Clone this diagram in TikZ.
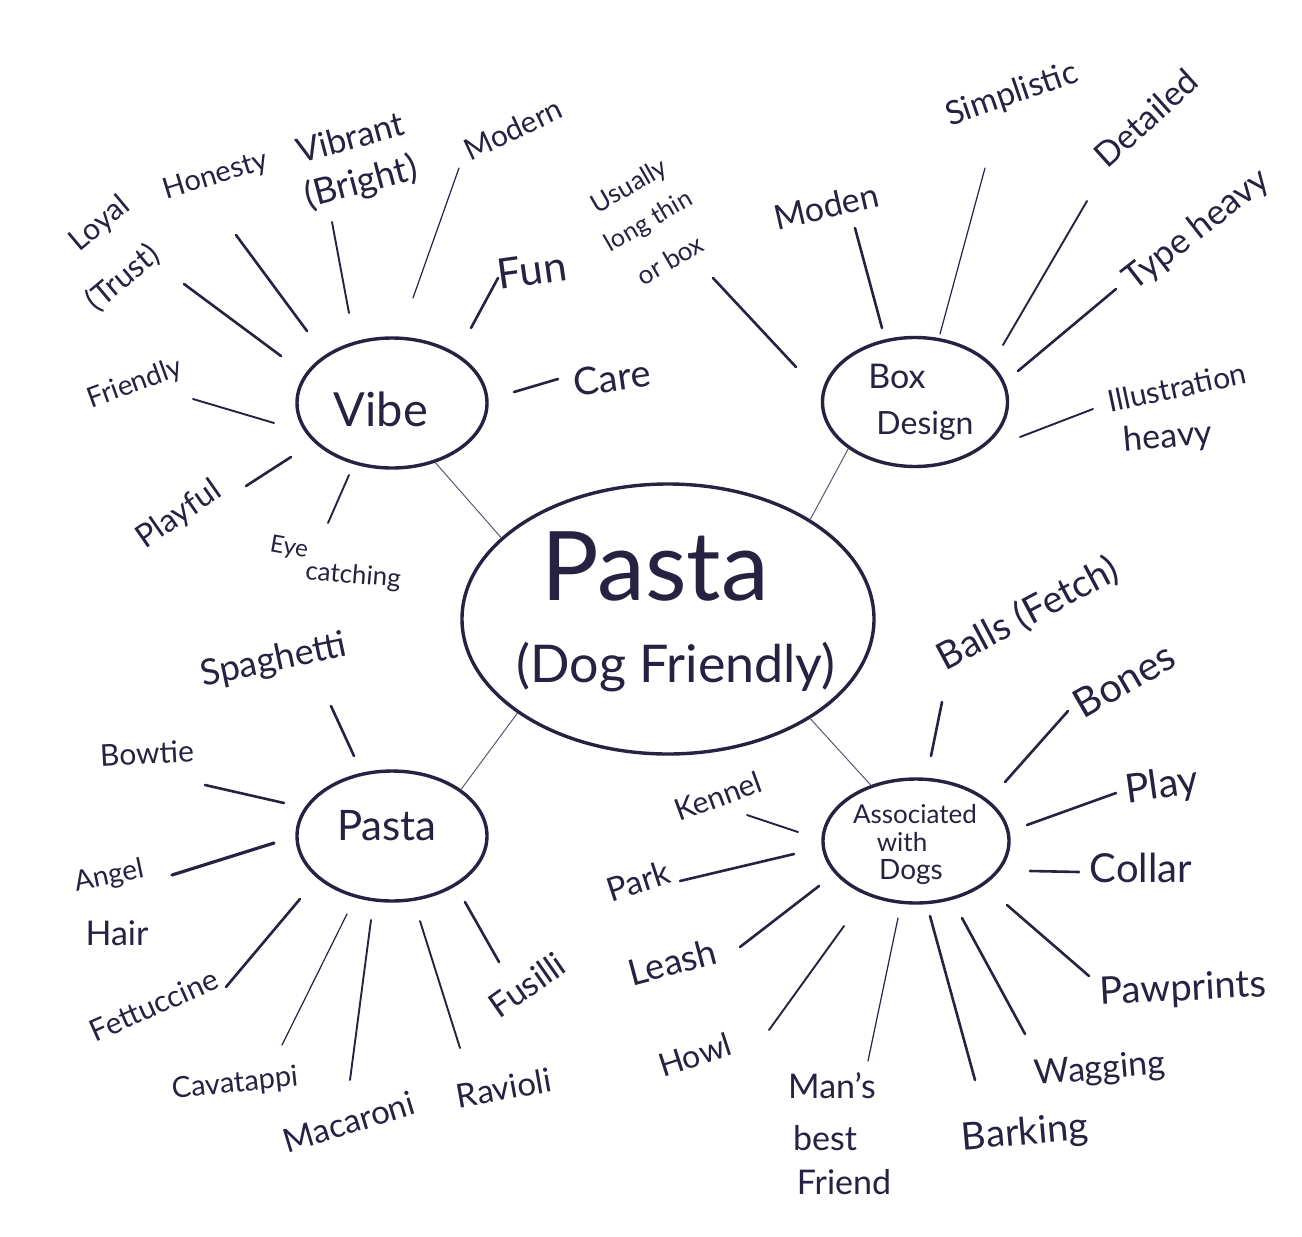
\documentclass[tikz,border=0pt]{standalone}
\usepackage{fontspec}
\setmainfont{Lato}
\usetikzlibrary{shapes.geometric}
\definecolor{ink}{RGB}{38,34,66}
\newcommand\spoke[4][]{\coordinate (#2a) at (#3);\coordinate (#2b) at (#4);\draw[spk,#1] (#2a) -- (#2b);}
\begin{document}
\begin{tikzpicture}[x=1pt,y=-1pt,
  ell/.style={ellipse, draw=ink, line width=3.4pt, inner sep=0pt},
  lab/.style={text=ink, inner sep=0pt, font=\fontsize{#1}{#1}\selectfont},
  spk/.style={draw=ink, line width=2.6pt, line cap=round},
  sp1/.style={line width=1.2pt},
  sp2/.style={line width=1.9pt},
  sp3/.style={line width=3.2pt},
  link/.style={draw=ink!75, line width=1pt}]
\useasboundingbox (0,0) rectangle (1302,1237);
\fill[white] (0,0) rectangle (1302,1237);

% ---------- main ellipses ----------
\node[ell, minimum width=412pt, minimum height=270pt] (center) at (668,619) {};
\node[ell, minimum width=190pt, minimum height=130pt] (vibe) at (392,403) {};
\node[ell, minimum width=185pt, minimum height=129pt] (box) at (915,402) {};
\node[ell, minimum width=190pt, minimum height=130pt] (pasta) at (392,836) {};
\node[ell, minimum width=186pt, minimum height=124pt] (dogs) at (916,841) {};

\node[lab=96] (tPasta) at (655,566) {Pasta};
\node[lab=52] (tDog) at (676,667) {(Dog Friendly)};
\node[lab=47] (tVibe) at (381,409) {Vibe};
\node[lab=34] (tBox) at (897,376) {Box};
\node[lab=32] (tDesign) at (925,426) {Design};
\node[lab=42] (tPastaSub) at (387,826) {Pasta};
\node[lab=26] (tAssoc) at (915,814) {Associated};
\node[lab=26] (tWith) at (902,842) {with};
\node[lab=28] (tDogs) at (911,872) {Dogs};

% ---------- connectors to the centre ----------
\draw[link] (vibe.-54) -- (center.154);
\draw[link] (box.215) -- (center.35.5);
\draw[link] (pasta.34.6) -- (center.212.6);
\draw[link] (dogs.129) -- (center.325);

% ---------- Vibe ----------
\node[lab=30, rotate=40] (lLoyal) at (100,224) {Loyal};
\node[lab=31, rotate=40] (lTrust) at (123,278) {(Trust)};
\node[lab=29, rotate=17] (lHonesty) at (216,176) {Honesty};
\node[lab=34, rotate=15] (lVibrant) at (350,137) {Vibrant};
\node[lab=36, rotate=15] (lBright) at (361,183) {(Bright)};
\node[lab=30, rotate=25] (lModern) at (513,129) {Modern};
\node[lab=42, rotate=8] (lFun) at (532,270) {Fun};
\node[lab=38, rotate=8] (lCare) at (612,378) {Care};
\node[lab=28, rotate=20] (lFriendly) at (135,384) {Friendly};
\node[lab=32, rotate=35] (lPlayful) at (179,515) {Playful};
\node[lab=24, rotate=-10] (lEye) at (289,548) {Eye};
\node[lab=26, rotate=-5] (lCatching) at (353,576) {catching};

\spoke{s1}{184,284}{281,356}
\spoke{s2}{236,235}{307,331}
\spoke[sp2]{s3}{332,222}{349,313}
\spoke[sp1]{s4}{459,168}{413,298}
\spoke{s5}{498,278}{471,328}
\spoke{s6}{514,392}{558,379}
\spoke[sp2]{s7}{193,399}{274,423}
\spoke{s8}{246,486}{291,457}
\spoke[sp2]{s9}{349,475}{328,523}

% ---------- Box Design ----------
\node[lab=26, rotate=30] (lUsually) at (630,187) {Usually};
\node[lab=25, rotate=30] (lLong) at (649,222) {long thin};
\node[lab=26, rotate=30] (lOrBox) at (670,260) {or box};
\node[lab=34, rotate=13] (lModen) at (826,206) {Moden};
\node[lab=33, rotate=19] (lSimplistic) at (1012,95) {Simplistic};
\node[lab=34, rotate=42] (lDetailed) at (1146,118) {Detailed};
\node[lab=35, rotate=38] (lType) at (1197,230) {Type heavy};
\node[lab=30, rotate=12] (lIllus) at (1177,387) {Illustration};
\node[lab=34, rotate=5] (lHeavy) at (1168,438) {heavy};

\spoke{b1}{713,278}{796,367}
\spoke{b2}{855,228}{882,328}
\spoke[sp1]{b3}{985,168}{940,334}
\spoke[sp2]{b4}{1087,201}{1003,345}
\spoke{b5}{1116,289}{1018,371}
\spoke[sp2]{b6}{1093,409}{1020,437}

% ---------- Pasta ----------
\node[lab=36, rotate=12] (lSpaghetti) at (274,661) {Spaghetti};
\node[lab=30, rotate=3] (lBowtie) at (147,753) {Bowtie};
\node[lab=28, rotate=12] (lAngel) at (109,877) {Angel};
\node[lab=34] (lHair) at (117,933) {Hair};
\node[lab=30, rotate=24] (lFettuccine) at (154,1005) {Fettuccine};
\node[lab=29, rotate=6] (lCavatappi) at (235,1084) {Cavatappi};
\node[lab=33, rotate=17] (lMacaroni) at (349,1122) {Macaroni};
\node[lab=33, rotate=10] (lRavioli) at (504,1088) {Ravioli};
\node[lab=34, rotate=35] (lFusilli) at (527,985) {Fusilli};

\spoke{p1}{331,706}{354,756}
\spoke{p2}{205,785}{284,803}
\spoke[sp3]{p3}{172,875}{274,843}
\spoke{p4}{226,987}{300,899}
\spoke[sp1]{p5}{282,1045}{347,914}
\spoke[sp2]{p6}{371,920}{350,1080}
\spoke[sp2]{p7}{420,921}{460,1048}
\spoke{p8}{465,902}{499,962}

% ---------- Associated with Dogs ----------
\node[lab=38, rotate=28] (lBalls) at (1028,614) {Balls (Fetch)};
\node[lab=40, rotate=30] (lBones) at (1124,680) {Bones};
\node[lab=40, rotate=8] (lPlay) at (1162,787) {Play};
\node[lab=40] (lCollar) at (1141,868) {Collar};
\node[lab=38, rotate=3] (lPawprints) at (1183,990) {Pawprints};
\node[lab=34, rotate=5] (lWagging) at (1100,1070) {Wagging};
\node[lab=38, rotate=5] (lBarking) at (1025,1134) {Barking};
\node[lab=34] (lMans) at (832,1086) {Man's};
\node[lab=34] (lBest) at (825,1138) {best};
\node[lab=34] (lFriend) at (844,1182) {Friend};
\node[lab=32, rotate=18] (lHowl) at (695,1055) {Howl};
\node[lab=36, rotate=15] (lLeash) at (672,962) {Leash};
\node[lab=33, rotate=18] (lPark) at (638,881) {Park};
\node[lab=30, rotate=20] (lKennel) at (718,796) {Kennel};

\spoke{d1}{942,702}{931,756}
\spoke{d2}{1068,711}{1005,782}
\spoke{d3}{1116,793}{1027,825}
\spoke{d4}{1079,872}{1030,871}
\spoke{d5}{1007,905}{1089,976}
\spoke{d6}{962,918}{1025,1034}
\spoke{d7}{930,916}{975,1080}
\spoke[sp1]{d8}{898,918}{868,1061}
\spoke[sp2]{d9}{844,926}{769,1030}
\spoke{d10}{819,886}{740,947}
\spoke{d11}{794,854}{680,881}
\spoke[sp2]{d12}{747,815}{798,832}
\end{tikzpicture}
\end{document}
